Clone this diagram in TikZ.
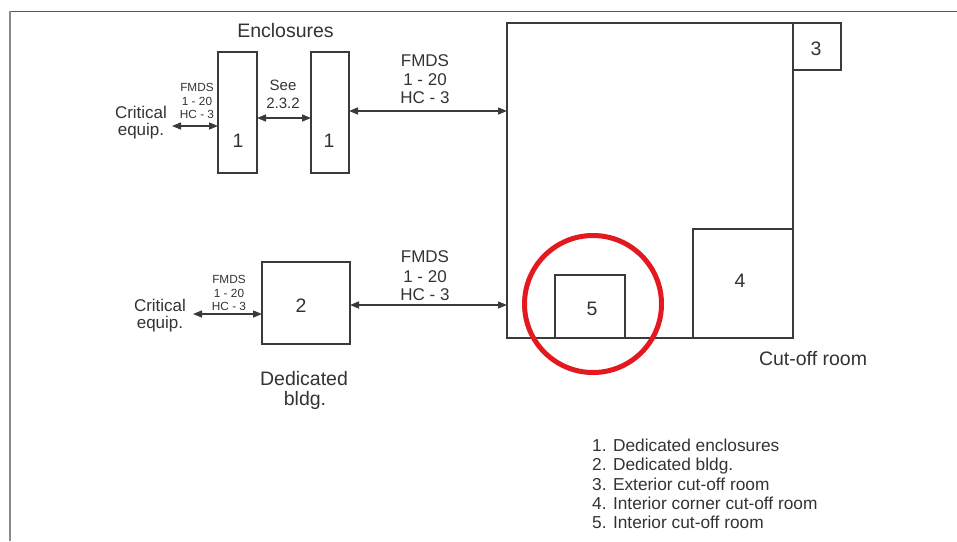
\documentclass[tikz,border=0pt]{standalone}
\usepackage{fontspec}
\setmainfont{Liberation Sans}
\usetikzlibrary{arrows.meta}
\definecolor{ink}{HTML}{333333}
\definecolor{lin}{HTML}{3A3A3A}
\definecolor{frm}{HTML}{555555}
\definecolor{frl}{HTML}{8A8A8A}
\definecolor{redc}{HTML}{E3191F}
\begin{document}
\begin{tikzpicture}[x=1pt,y=-1pt,
  box/.style={draw=lin, line width=1.6pt, inner sep=0pt, outer sep=0pt},
  dbl/.style={draw=lin, line width=1.4pt, {Triangle[length=9pt,width=7pt]}-{Triangle[length=9pt,width=7pt]}},
  big/.style={text=ink, font=\fontsize{19.5}{22}\selectfont, anchor=base, inner sep=0pt},
  mid/.style={text=ink, font=\fontsize{17}{19}\selectfont, anchor=base, inner sep=0pt},
  see/.style={text=ink, font=\fontsize{15}{17}\selectfont, anchor=base, inner sep=0pt},
  sml/.style={text=ink, font=\fontsize{11.8}{13}\selectfont, anchor=base, inner sep=0pt},
  leg/.style={text=ink, font=\fontsize{17.3}{19}\selectfont, anchor=base west, inner sep=0pt},
]
\useasboundingbox (0,0) rectangle (957,541);
% frame
\draw[frm, line width=1.5pt] (9,11.5) -- (957,11.5);
\draw[frl, line width=2.5pt] (10,11) -- (10,541);

% enclosures
\node[box, minimum width=39pt, minimum height=121pt] (e1) at (237.5,112.5) {};
\node[box, minimum width=38pt, minimum height=121pt] (e2) at (330,112.5) {};
\node[big] (n1a) at (238,147) {1};
\node[big] (n1b) at (329,147) {1};
\node[big] (enc) at (285.5,37) {Enclosures};

% dedicated building
\node[box, minimum width=88pt, minimum height=82pt] (b2) at (306,303) {};
\node[big] (n2) at (301,312) {2};
\node[big] (ded1) at (304,385) {Dedicated};
\node[big] (ded2) at (305,405) {bldg.};

% cut-off rooms
\node[box, minimum width=286pt, minimum height=315pt] (R) at (650,180.5) {};
\node[box, minimum width=48pt, minimum height=47pt] (r3) at (817,46.5) {};
\node[box, minimum width=100pt, minimum height=109pt] (r4) at (743,283.5) {};
\node[box, minimum width=70pt, minimum height=63pt] (r5) at (590,306.5) {};
\node[big] (n3) at (816,55) {3};
\node[big] (n4) at (740,287) {4};
\node[big] (n5) at (592,315) {5};
\node[big] (cut) at (813,365) {Cut-off room};
\node[circle, draw=redc, line width=5pt, minimum size=137pt, inner sep=0pt] (hl) at (593,304) {};

% connectors, top row
\coordinate (ce1) at (172,126);
\draw[dbl] (ce1) -- (e1.west |- ce1);
\draw[dbl] (e1.east |- 0,118) -- (e2.west |- 0,118);
\draw[dbl] (e2.east |- 0,111) -- (R.west |- 0,111);
\node[sml] (t1a) at (197,91) {FMDS};
\node[sml] (t1b) at (197,105) {1 - 20};
\node[sml] (t1c) at (197,118) {HC - 3};
\node[mid] (c1a) at (141,118) {Critical};
\node[mid] (c1b) at (141,135) {equip.};
\node[see] (s1) at (283,90) {See};
\node[see] (s2) at (283,108) {2.3.2};
\node[mid] (t2a) at (425,66) {FMDS};
\node[mid] (t2b) at (425,85) {1 - 20};
\node[mid] (t2c) at (425,103) {HC - 3};

% connectors, bottom row
\coordinate (ce2) at (193,314);
\draw[dbl] (ce2) -- (b2.west |- ce2);
\draw[dbl] (b2.east |- 0,305) -- (R.west |- 0,305);
\node[sml] (t3a) at (229,283) {FMDS};
\node[sml] (t3b) at (229,297) {1 - 20};
\node[sml] (t3c) at (229,310) {HC - 3};
\node[mid] (c2a) at (160,311) {Critical};
\node[mid] (c2b) at (160,328) {equip.};
\node[mid] (t4a) at (425,262) {FMDS};
\node[mid] (t4b) at (425,282) {1 - 20};
\node[mid] (t4c) at (425,300) {HC - 3};

% legend
\node[leg] (l1) at (592,451) {1. Dedicated enclosures};
\node[leg] (l2) at (592,470) {2. Dedicated bldg.};
\node[leg] (l3) at (592,490) {3. Exterior cut-off room};
\node[leg] (l4) at (592,509) {4. Interior corner cut-off room};
\node[leg] (l5) at (592,528) {5. Interior cut-off room};
\end{tikzpicture}
\end{document}
